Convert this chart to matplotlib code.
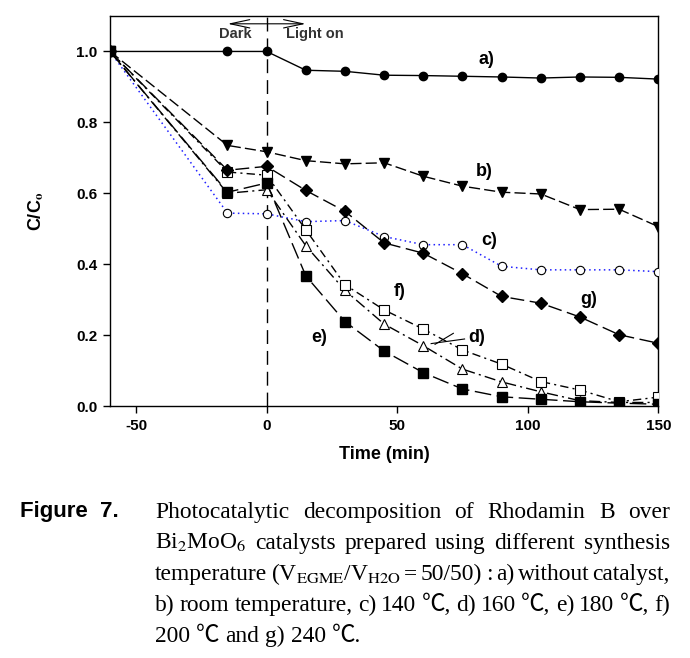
import matplotlib
matplotlib.use("Agg")
import matplotlib.pyplot as plt
import numpy as np

plt.rcParams['mathtext.fontset'] = 'stix'

# ---------------- data ----------------
time = [-60, -15, 0, 15, 30, 45, 60, 75, 90, 105, 120, 135, 150]
a_vals = [1.0, 1.0, 1.0, 0.947, 0.944, 0.933, 0.932, 0.930, 0.928, 0.925, 0.928, 0.927, 0.922]
b_vals = [1.0, 0.735, 0.717, 0.692, 0.683, 0.686, 0.648, 0.620, 0.603, 0.598, 0.554, 0.555, 0.506]
c_vals = [1.0, 0.544, 0.542, 0.520, 0.523, 0.478, 0.455, 0.455, 0.394, 0.384, 0.384, 0.384, 0.379]
d_vals = [1.0, 0.600, 0.610, 0.452, 0.326, 0.231, 0.170, 0.104, 0.068, 0.040, 0.015, 0.010, 0.010]
e_vals = [1.0, 0.603, 0.629, 0.367, 0.238, 0.155, 0.094, 0.048, 0.026, 0.019, 0.012, 0.008, 0.005]
f_vals = [1.0, 0.660, 0.651, 0.497, 0.342, 0.271, 0.217, 0.158, 0.118, 0.069, 0.045, 0.012, 0.025]
g_vals = [1.0, 0.665, 0.676, 0.608, 0.549, 0.460, 0.431, 0.373, 0.309, 0.290, 0.251, 0.201, 0.177]

series_labels = ["a)", "b)", "c)", "d)", "e)", "f)", "g)"]
label_pos = [(84, 0.977), (83.5, 0.661), (85.4, 0.466), (80.5, 0.192), (20, 0.192), (50.8, 0.322), (123.5, 0.30)]

xticks = [-50, 0, 50, 100, 150]
yticks = [0.0, 0.2, 0.4, 0.6, 0.8, 1.0]

W, H = 690, 658
fig = plt.figure(figsize=(W / 100, H / 100), dpi=100)
ax = fig.add_axes([110 / W, 1 - 406 / H, (658.3 - 110) / W, (406 - 16) / H])

# vertical dark/light separator
ax.axvline(0, color='black', lw=1.0, ls=(0, (10, 5)), zorder=1)

ax.plot(time, a_vals, color='black', lw=1.0, ls='-', marker='o', ms=6, mfc='black', mec='black', zorder=3)
ax.plot(time, b_vals, color='black', lw=1.0, ls=(0, (8, 3)), marker='v', ms=7.5, mfc='black', mec='black', zorder=3)
ax.plot(time, c_vals, color='#2020ff', lw=1.1, ls=(0, (1, 2.2)), marker='o', ms=6, mfc='white', mec='black', mew=0.8, zorder=3)
ax.plot(time, d_vals, color='black', lw=1.0, ls=(0, (8, 3, 1.5, 3)), marker='^', ms=7, mfc='white', mec='black', mew=0.8, zorder=3)
ax.plot(time, f_vals, color='black', lw=1.0, ls=(0, (6, 3, 1.5, 3)), marker='s', ms=6.5, mfc='white', mec='black', mew=0.8, zorder=3)
ax.plot(time, g_vals, color='black', lw=1.0, ls=(0, (10, 4)), marker='D', ms=6, mfc='black', mec='black', zorder=4)
ax.plot(time, e_vals, color='black', lw=1.0, ls=(0, (12, 4)), marker='s', ms=6.5, mfc='black', mec='black', zorder=4)

for lab, (lx, ly) in zip(series_labels, label_pos):
    ax.text(lx, ly, lab, fontsize=13, fontweight='bold', family='Liberation Sans', ha='center', va='center')

# pointer lines for d)
ax.plot([75.8, 63.0], [0.189, 0.176], color='black', lw=0.8)
ax.plot([71.5, 64.5], [0.205, 0.174], color='black', lw=0.8)

# Dark / Light on arrow
ax.annotate('', xy=(-16, 1.078), xytext=(16, 1.078),
            arrowprops=dict(arrowstyle='<->,head_length=1.4,head_width=0.3', lw=0.8, color='black'))
ax.text(-12, 1.05, 'Dark', fontsize=10.5, fontweight='bold', family='Liberation Sans', ha='center', va='center', color='#333333')
ax.text(18.5, 1.05, 'Light on', fontsize=10.5, fontweight='bold', family='Liberation Sans', ha='center', va='center', color='#333333')

ax.set_xlim(-60, 150)
ax.set_ylim(0, 1.10)
ax.set_xticks(xticks)
ax.set_yticks(yticks)
ax.set_xticklabels([f"{t:d}" for t in xticks])
ax.set_yticklabels([f"{t:.1f}" for t in yticks])
ax.tick_params(direction='out', length=5, width=1, labelsize=11, top=False, right=False, pad=4)
for lbl in ax.get_xticklabels() + ax.get_yticklabels():
    lbl.set_fontweight('bold')
    lbl.set_family('Liberation Sans')
for sp in ax.spines.values():
    sp.set_linewidth(1.0)

ax.set_xlabel('Time (min)', fontsize=13, fontweight='bold', family='Liberation Sans', labelpad=10)
ax.set_ylabel(r'C/C$_\mathbf{o}$', fontsize=13, fontweight='bold', family='Liberation Sans', labelpad=22)

# ---------------- caption ----------------
fig.text(20 / W, 1 - 517 / H, 'Figure  7.', fontsize=16, fontweight='bold', family='Liberation Sans',
         ha='left', va='baseline')

caption_lines = [
    ["Photocatalytic", "decomposition", "of", "Rhodamin", "B", "over"],
    ["Bi$_2$MoO$_6$", "catalysts", "prepared", "using", "different", "synthesis"],
    ["temperature", r"(V$_{\mathrm{EGME}}$/V$_{\mathrm{H2O}}$", "=", "50/50)", ":", "a)", "without", "catalyst,"],
    ["b)", "room", "temperature,", "c)", "140", "℃,", "d)", "160", "℃,", "e)", "180", "℃,", "f)"],
    ["200", "℃", "and", "g)", "240", "℃."],
]
justify = [True, True, True, True, False]
baselines = [518, 549, 580, 611, 642]
x0, x1 = 155, 670
fam = ['Liberation Serif', 'Noto Sans CJK SC']
cap_fs = 18

renderer = fig.canvas.get_renderer()


def word_width(w, fs):
    t = fig.text(0, 0, w, fontsize=fs, family=fam)
    bb = t.get_window_extent(renderer)
    t.remove()
    return bb.width

# fit font size so that the widest justified line fits
sp_w = word_width("a a", cap_fs) - 2 * word_width("a", cap_fs)
for _ in range(20):
    maxw = max(sum(word_width(w, cap_fs) for w in ln) + sp_w * 0.45 * (len(ln) - 1) for ln in caption_lines)
    if maxw <= (x1 - x0):
        break
    cap_fs *= 0.98
    sp_w = word_width("a a", cap_fs) - 2 * word_width("a", cap_fs)

for words, jus, by in zip(caption_lines, justify, baselines):
    widths = [word_width(w, cap_fs) for w in words]
    if jus and len(words) > 1:
        gap = ((x1 - x0) - sum(widths)) / (len(words) - 1)
    else:
        gap = sp_w
    x = x0
    for w, wd in zip(words, widths):
        fig.text(x / W, 1 - by / H, w, fontsize=cap_fs, family=fam, ha='left', va='baseline')
        x += wd + gap

fig.savefig('out.png', dpi=100)
